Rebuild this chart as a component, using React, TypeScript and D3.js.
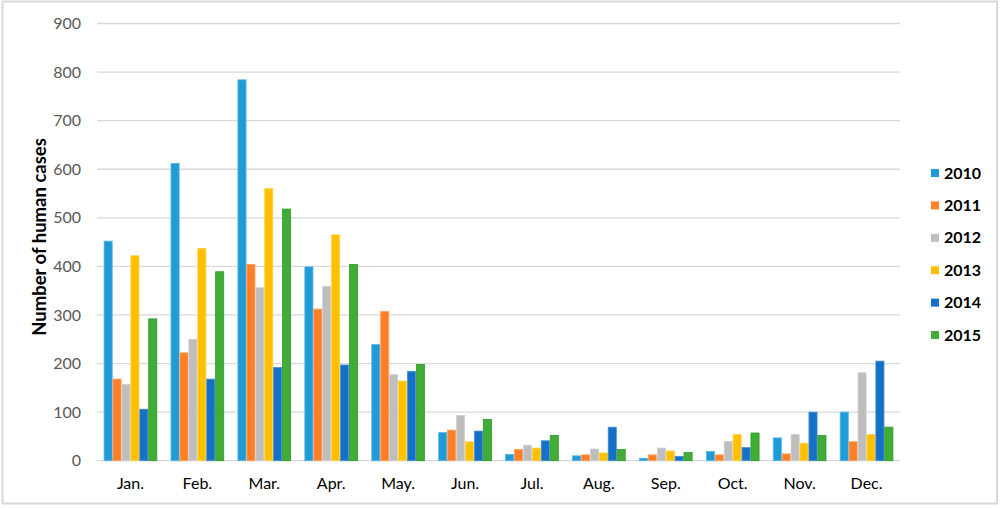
import React from "react";
import * as d3 from "d3";

const months = ["Jan.", "Feb.", "Mar.", "Apr.", "May.", "Jun.", "Jul.", "Aug.", "Sep.", "Oct.", "Nov.", "Dec."];
const years = ["2010", "2011", "2012", "2013", "2014", "2015"];
const colors = ["#1F9BD7", "#FF7F27", "#BEBEBE", "#FFC000", "#1570C8", "#42AD36"];
const strokes = ["#5BB5E3", "#FFA060", "#D0D0D0", "#FFD24D", "#4A8FD6", "#2E9A28"];

const v2010 = [452, 612, 784, 399, 239, 58, 13, 10, 5, 19, 47, 100];
const v2011 = [168, 222, 404, 312, 307, 63, 23, 12, 12, 12, 14, 39];
const v2012 = [157, 250, 356, 359, 177, 93, 32, 24, 26, 40, 54, 181];
const v2013 = [422, 437, 560, 465, 164, 39, 26, 16, 20, 54, 36, 54];
const v2014 = [106, 168, 192, 197, 184, 61, 41, 69, 9, 27, 100, 205];
const v2015 = [292, 389, 518, 404, 198, 85, 52, 23, 17, 57, 52, 69];
const series = [v2010, v2011, v2012, v2013, v2014, v2015];

const yTicks = [0, 100, 200, 300, 400, 500, 600, 700, 800, 900];

const W = 1000;
const H = 508;
const left = 97;
const right = 900;
const top = 23.5;
const bottom = 460.7;

export default function App() {
  const x = d3.scaleBand<string>().domain(months).range([left, right]).paddingInner(0.2).paddingOuter(0.1);
  const xi = d3.scaleBand<string>().domain(years).range([0, x.bandwidth()]).padding(0);
  const y = d3.scaleLinear().domain([0, 900]).range([bottom, top]);
  const font = "Lato, 'Open Sans', 'Liberation Sans', sans-serif";

  return (
    <svg width={W} height={H} style={{ position: "absolute", left: 0, top: 0, background: "#fff" }} fontFamily={font}>
      <rect x={2.5} y={1.5} width={994.5} height={502} fill="#fff" stroke="#d9d9d9" strokeWidth={2} />
      {yTicks.map((t) => (
        <g key={t}>
          <line x1={left} x2={right} y1={y(t)} y2={y(t)} stroke="#d9d9d9" strokeWidth={1.3} />
          <text x={81} y={y(t)} dy="0.35em" textAnchor="end" fontSize={16} fill="#595959">
            {t}
          </text>
        </g>
      ))}
      {months.map((m, i) => (
        <g key={m} transform={`translate(${x(m)},0)`}>
          {series.map((s, j) => (
            <rect
              key={j}
              x={(xi(years[j]) as number) + 0.4}
              y={y(s[i])}
              width={xi.bandwidth() - 0.8}
              height={y(0) - y(s[i])}
              fill={colors[j]}
              stroke={strokes[j]}
              strokeWidth={0.8}
            />
          ))}
          <text x={x.bandwidth() / 2} y={483} dy="0.35em" textAnchor="middle" fontSize={16} fill="#000">
            {m}
          </text>
        </g>
      ))}
      <text
        transform={`translate(40,237) rotate(-90)`}
        textAnchor="middle"
        dy="0.35em"
        fontSize={18.5}
        fontWeight="bold"
        fill="#000"
      >
        Number of human cases
      </text>
      {years.map((yr, j) => (
        <g key={yr} transform={`translate(931,${173 + j * 32.4})`}>
          <rect x={0} y={-4} width={8} height={8} fill={colors[j]} />
          <text x={13} y={0} dy="0.35em" fontSize={16} fontWeight="bold" fill="#000">
            {yr}
          </text>
        </g>
      ))}
    </svg>
  );
}
